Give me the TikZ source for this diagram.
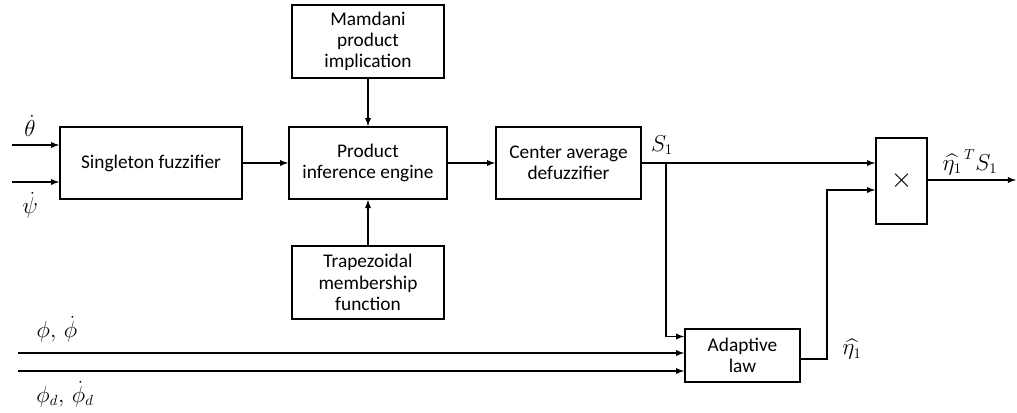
\documentclass[tikz,border=0pt]{standalone}
\usepackage{amsmath,amsfonts,amssymb}
\usepackage{fontspec}
\setmainfont{Carlito}
\usetikzlibrary{arrows}

\begin{document}
\begin{tikzpicture}[x=0.75pt,y=-0.75pt,
    block/.style={draw,line width=1.3pt,minimum width=#1,align=center,font=\fontsize{14.5}{16}\selectfont},
    block/.default=110pt,
    conn/.style={->,>=latex,line width=1.1pt},
    lab/.style={inner sep=1pt,font=\fontsize{16}{19}\selectfont}]
                    \useasboundingbox (0,0) rectangle (1017,412);

                    \node[block=136.5pt,minimum height=54pt] at (151,163) (fuzz) {Singleton fuzzifier};
                    \node[block=118.5pt,minimum height=54pt] at (368,163) (engine) {Product\\inference engine};
                    \node[block=114pt,minimum height=55pt] at (368,41.5) (mamdani) {Mamdani\\product\\implication};
                    \node[block=114pt,minimum height=55pt] at (368,282.5) (trap) {Trapezoidal\\membership\\function};
                    \node[block=108.75pt,minimum height=54pt] at (568.5,163) (defuzz) {Center average\\defuzzifier};
                    \node[block=38.25pt,minimum height=64.5pt,font=\fontsize{20}{24}\selectfont] at (901.5,181) (mult) {$\times$};
                    \node[block=86.25pt,minimum height=39.75pt] at (742.5,355.5) (adapt) {Adaptive\\law};

                    \coordinate (thin) at (12,145);
                    \coordinate (psin) at (12,182);
                    \coordinate (phin) at (18,353);
                    \coordinate (phdin) at (18,371);
                    \coordinate (split) at (666,163);
                    \coordinate (etaup) at (827,190);
                    \coordinate (etadn) at (827,359);
                    \coordinate (out) at (1016,180);

                    \node[lab] at (30,126) (thlab) {$\dot{\theta}$};
                    \node[lab] at (30,205) (pslab) {$\dot{\psi}$};
                    \node[lab] at (57,329) (phlab) {$\phi,\,\dot{\phi}$};
                    \node[lab] at (65,394) (phdlab) {$\phi_d,\,\dot{\phi}_d$};
                    \node[lab] at (662,145) (slab) {$S_1$};
                    \node[lab] at (852,349) (etalab) {$\widehat{\eta_1}$};
                    \node[lab] at (970,162) (outlab) {$\widehat{\eta_1}^{\,T}S_1$};

                    \draw[conn] (thin) -- (thin -| fuzz.west);
                    \draw[conn] (psin) -- (psin -| fuzz.west);
                    \draw[conn] (fuzz) -- (engine);
                    \draw[conn] (mamdani) -- (engine);
                    \draw[conn] (trap) -- (engine);
                    \draw[conn] (engine) -- (defuzz);
                    \draw[conn] (defuzz.east |- split) -- (mult.west |- split);
                    \draw[conn] (split) |- ([yshift=14.25pt]adapt.west);
                    \draw[conn] (phin) -- (phin -| adapt.west);
                    \draw[conn] (phdin) -- (phdin -| adapt.west);
                    \draw[conn] (adapt.east |- etadn) -- (etadn) -- (etaup) -- (etaup -| mult.west);
                    \draw[conn] (mult.east |- out) -- (out);
                \end{tikzpicture}
\end{document}
